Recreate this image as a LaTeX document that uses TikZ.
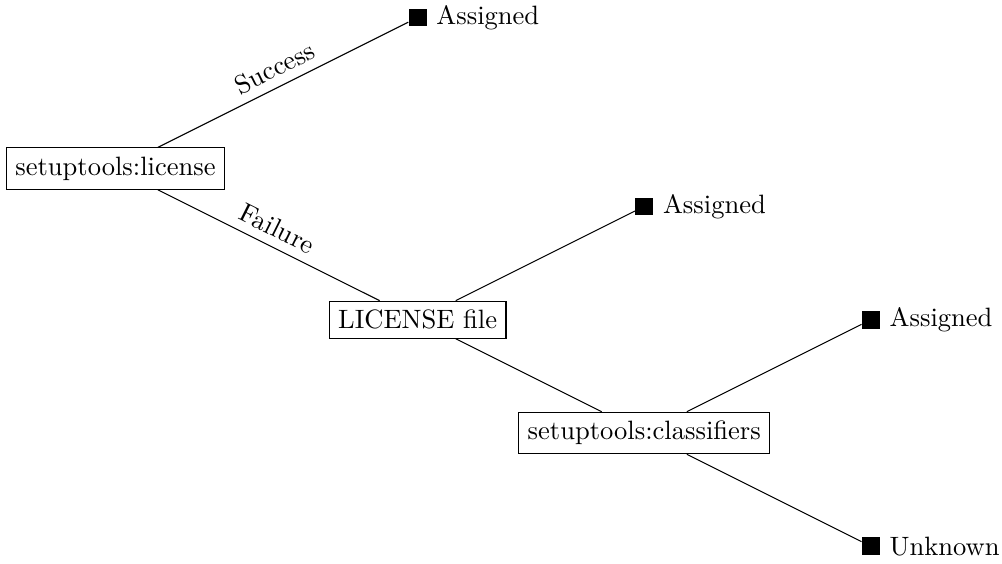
\documentclass[tikz,border=0pt]{standalone}
\begin{document}
\begin{tikzpicture}[
    box/.style={draw},
    leaf/.style={fill}
  ]
    \useasboundingbox (-43.5pt,-148.6pt) rectangle (333.9pt,63.5pt);
    \node[box] (lic) at (0,0) {setuptools:license};
    \node[leaf, label=right:Assigned] (ok1) at (4,2) {};
    \node[box] (file) at (4,-2) {LICENSE file};
    \node[leaf, label=right:Assigned] (ok2) at (7,-0.5) {};
    \node[box] (cls) at (7,-3.5) {setuptools:classifiers};
    \node[leaf, label=right:Assigned] (ok3) at (10,-2) {};
    \node[leaf, label=right:Unknown] (unk) at (10,-5) {};
    \draw (lic) -- node[above, sloped] {Success} (ok1);
    \draw (lic) -- node[above, sloped] {Failure} (file);
    \draw (file) -- (ok2);
    \draw (file) -- (cls);
    \draw (cls) -- (ok3);
    \draw (cls) -- (unk);
  \end{tikzpicture}
\end{document}
